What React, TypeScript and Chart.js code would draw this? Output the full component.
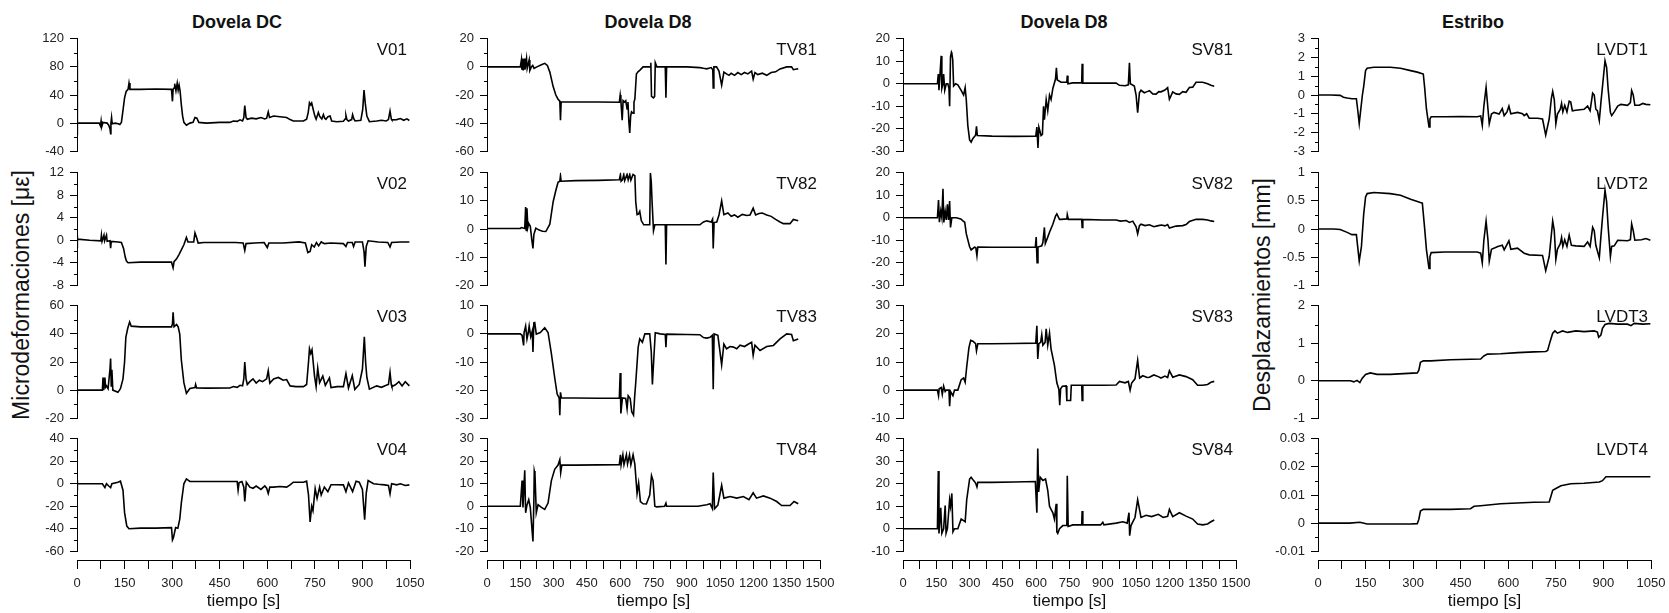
import React, { useEffect, useRef } from 'react';
import { Chart, registerables } from 'chart.js';

Chart.register(...registerables);
Chart.defaults.font.family = '"Liberation Sans", Arial, sans-serif';

type Pt = [number, number];

// ---------- Data: [tiempo (s), valor] ----------
const V01: Pt[] = [[0,0],[0.5,90],[1,-17],[2,0],[70,0],[74,-4],[76,3],[78,-5],[82,1],[95,0],[100,-3],[104,-8],[106,-15],[107,0],[109,8],[111,-1],[120,0],[130,-1],[135,-2],[140,1],[145,18],[150,36],[155,45],[161,48],[164,57],[167,48],[200,48],[250,48.5],[298,48],[301,31],[303,48],[306,50],[308,56],[312,46],[316,57],[319,47],[322,54],[325,46],[329,26],[333,10],[337,1],[345,-3],[356,0],[366,1],[372,8],[378,7],[384,1],[408,0],[450,1],[482,1],[493,3],[505,2.5],[514,4.6],[522,3],[526,8],[529,25],[533,8],[537,5.5],[550,7],[565,6],[580,8],[592,6],[598,7],[603,16],[607,8],[620,10],[640,9],[661,8],[672,5],[682,3],[700,3],[714,3],[724,5.5],[729,15],[733,29],[737,26],[740,28.5],[745,19],[750,10],[754,5.5],[761,15],[765,10],[768,8],[772,6],[777,12],[781,7],[785,5.5],[791,9],[798,10],[803,3],[819,2],[840,2.5],[846,6],[848,11],[851,5],[856,3],[866,5],[869,12],[873,6],[877,3],[895,4],[901,20],[905,47],[909,28],[914,10],[922,2],[945,3],[960,4],[975,3],[982,5],[987,17],[991,6],[993,4.6],[1008,5],[1020,6.5],[1030,4],[1040,6],[1048,3.7]];
const V02: Pt[] = [[0,0.3],[0.5,0.9],[1,-1.4],[2,0.2],[40,0],[75,-0.1],[77,0.9],[79,-0.2],[85,0.9],[87,-0.1],[93,0.9],[95,-0.2],[104,-0.1],[106,-1.4],[108,-0.2],[130,-0.3],[140,-0.4],[147,-1.5],[152,-3],[156,-3.7],[161,-4],[200,-3.9],[250,-3.9],[298,-3.9],[303,-4.9],[306,-3.8],[314,-3.3],[322,-2.5],[329,-1.7],[337,-0.8],[345,0.5],[350,-0.3],[368,-0.3],[372,1.3],[377,0.5],[382,-0.5],[400,-0.4],[450,-0.4],[500,-0.4],[524,-0.5],[529,-1.8],[533,-0.6],[560,-0.5],[590,-0.4],[600,-1.3],[605,-0.5],[650,-0.5],[700,-0.3],[720,-0.5],[728,-2.2],[735,-2.0],[740,-0.8],[748,-1.2],[755,-0.4],[762,-1.0],[770,-0.3],[780,-0.6],[800,-0.5],[840,-0.6],[848,-1.1],[853,-0.4],[868,-0.4],[872,-1.1],[877,-0.3],[900,-0.3],[905,-2.0],[908,-4.7],[912,-1.1],[918,-0.1],[950,-0.3],[980,-0.4],[987,-1.2],[992,-0.4],[1020,-0.3],[1048,-0.3]];
const V03: Pt[] = [[0,0],[0.5,-2.8],[1.5,0],[80,0],[82,9],[84,0],[88,9],[90,2],[93,3],[98,1],[104,15],[106,22.5],[108,3],[110,14.5],[113,0],[129,-1.6],[137,1],[145,8],[150,20],[154,37.5],[160,44],[166,48.5],[171,45.5],[200,45],[250,45],[298,45],[301,47],[303,55.4],[306,45],[314,46.7],[319,45],[324,39.8],[329,21.4],[337,5.3],[345,-2.3],[356,1.1],[372,1.8],[374,4],[377,1.5],[408,1.4],[482,1.5],[493,2.5],[505,2],[514,3.4],[522,3],[526,8],[529,20],[533,8],[537,4],[545,6],[555,8],[565,5],[575,7],[585,6],[598,8],[603,13.8],[608,5],[620,8],[635,9],[650,7],[661,7.5],[672,3],[690,2.5],[714,2.5],[724,4],[730,20],[733,29.4],[737,26],[741,28.7],[749,10],[754,2.5],[759,15.6],[765,5.3],[775,10],[783,3.4],[796,8.7],[801,1.8],[820,2.5],[840,2.5],[848,11.7],[856,1.5],[868,10.3],[876,0.5],[890,4],[900,15],[906,38],[910,20],[914,9],[922,0.7],[945,3],[960,2],[975,3.5],[982,4],[987,12.6],[991,4],[993,2.5],[1005,4],[1015,6],[1025,3],[1035,6],[1048,3]];
const V04: Pt[] = [[0,0],[0.5,3.4],[1,-6],[2,0],[80,0],[88,-3.4],[93,0],[100,-2],[106,-3.4],[110,0],[129,1.4],[137,2.3],[145,-5.7],[150,-25.7],[157,-37.7],[164,-40],[200,-39.5],[250,-39.5],[298,-39],[301,-50],[304,-48],[311,-39],[318,-39.5],[324,-31.4],[329,-17],[337,0],[345,4.3],[356,2],[400,2],[450,2],[505,2],[508,-5.7],[511,1],[520,2],[526,-3],[529,-15.7],[534,1.4],[545,-3],[555,-4],[565,-2],[580,-5],[592,-2],[598,-4],[603,-8.6],[608,-3],[620,-3],[640,-2.5],[661,-3],[672,-1],[682,1.4],[714,1.4],[724,2.3],[730,-10],[735,-34],[740,-20],[744,-24],[751,-4.3],[757,-13],[765,-2.9],[770,-10],[780,-2.9],[791,-7],[801,-0.9],[819,-0.9],[840,-1],[848,-7],[856,0.7],[869,-7],[880,2.3],[890,1.4],[900,-5],[907,-32],[912,-8.6],[918,2.9],[935,0],[950,-0.5],[970,-1],[982,-1.5],[987,-9],[992,0],[1008,-1],[1020,0],[1035,-1.5],[1048,-1]];

const TV81: Pt[] = [[0,0],[150,0],[155,5],[157,-2],[160,6],[163,-2.5],[168,6],[171,-2],[178,6],[181,-1],[190,5],[193,-2.5],[200,0],[206,1],[212,-1],[225,0],[245,1.5],[260,2.5],[272,1],[283,-3.7],[298,-14],[310,-20],[320,-23],[328,-24.4],[331,-38],[334,-25],[400,-25],[500,-25],[596,-25.2],[600,-20],[603,-24],[609,-38],[613,-24],[619,-25],[625,-24],[631,-30],[635,-25],[639,-39],[643,-47],[647,-35],[651,-32],[658,-33],[662,-25],[666,-23],[673,-5],[680,-3.5],[688,-2.5],[703,0],[735,0],[738,3],[741,-21],[750,-22],[755,-21],[758,3],[765,0],[803,0],[806,-22],[809,0],[900,0],[959,-0.5],[975,-1],[990,-1.4],[1010,-0.5],[1017,-2],[1019,-15],[1022,0],[1034,0],[1045,-3],[1057,-13],[1067,-3.7],[1079,-5],[1090,-6],[1100,-4.5],[1115,-6],[1130,-4],[1145,-5.5],[1160,-4],[1175,-5],[1192,-3],[1199,-8.7],[1207,-4],[1220,-5.5],[1240,-4.5],[1260,-6],[1280,-4],[1300,-3.5],[1320,-1.4],[1350,0],[1372,0],[1380,-2],[1395,-1.5],[1402,-1.4]];
const TV82: Pt[] = [[0,0.2],[150,0.2],[155,0.5],[170,0.2],[174,7.8],[177,-0.5],[180,7.4],[184,0.6],[188,2],[195,1],[202,-4],[207,-6.9],[211,-2],[220,0.3],[235,-0.4],[250,-0.8],[265,-0.9],[283,1.7],[298,9.7],[310,13.7],[320,16.6],[328,17],[331,19],[334,17],[400,17.2],[500,17.3],[596,17.5],[601,19.4],[604,17],[610,17.5],[616,19.4],[620,17.2],[631,19.4],[636,17.5],[643,19.4],[648,17.4],[658,19.4],[666,19],[670,9.7],[676,5.1],[682,5.3],[688,6.3],[695,3],[706,1.5],[733,1.5],[736,20],[740,16.6],[744,9],[750,-0.6],[756,1.5],[803,1.5],[806,-12.6],[809,1.5],[959,1.5],[975,2.5],[990,2.9],[1010,2.5],[1016,3.5],[1019,-6.9],[1023,2.3],[1035,2.5],[1045,5],[1057,10],[1067,5.1],[1085,5.7],[1100,4.5],[1115,5],[1130,4.2],[1150,5.2],[1170,4.8],[1185,5],[1199,7.4],[1210,5],[1225,5.5],[1240,5.7],[1260,5],[1280,4.5],[1300,3.4],[1320,2.5],[1335,1.9],[1365,1.9],[1380,3.4],[1402,2.9]];
const TV83: Pt[] = [[0,0],[150,0],[158,-0.5],[165,-4.1],[167,0.5],[174,2.8],[180,-1.8],[186,0.5],[190,2.8],[197,-1],[204,1],[207,-6.4],[211,3.9],[215,4],[222,-0.1],[240,0.5],[260,2.2],[275,0.5],[290,-7],[305,-15.6],[316,-21.4],[325,-22.8],[328,-28.9],[331,-20.8],[335,-22.8],[400,-22.8],[500,-22.9],[596,-22.8],[600,-13.9],[603,-28.3],[610,-22.8],[625,-23],[631,-26.6],[636,-22],[645,-23],[652,-27.7],[660,-28.9],[665,-22.5],[670,-17.4],[681,-4.7],[688,-1.8],[700,-3],[711,0],[733,0],[740,-6.4],[745,-18],[751,-9.3],[758,0.4],[780,0],[803,-0.2],[806,-4.7],[809,-0.1],[900,-0.2],[959,-0.3],[975,-1.3],[990,-1.5],[1005,-1.2],[1015,-0.5],[1019,-19.7],[1023,0],[1040,-0.5],[1057,-11],[1067,-3.6],[1079,-5.3],[1095,-4.5],[1110,-4.7],[1125,-5.3],[1140,-4],[1160,-4.5],[1178,-3.6],[1192,-3],[1199,-7.6],[1207,-4],[1230,-5.9],[1260,-4.5],[1290,-4.1],[1320,-1.8],[1350,0],[1372,-0.2],[1380,-2.4],[1402,-1.8]];
const TV84: Pt[] = [[0,0],[150,0],[158,11.4],[162,-0.5],[170,16],[174,-2.9],[180,0.5],[188,2.9],[195,-0.5],[207,-15.7],[211,2],[213,15.7],[216,14.3],[222,-2.9],[230,0.7],[245,-0.5],[260,-1.4],[275,1.4],[290,11.4],[305,16.4],[320,18.3],[328,20.7],[332,15],[337,18.3],[400,18.3],[500,18.4],[596,18.5],[601,22.9],[604,18.4],[612,22.9],[617,18.5],[628,22.9],[633,18.8],[642,22.9],[648,18.5],[658,22.9],[666,18.6],[676,5.7],[683,10.3],[691,2.1],[703,1.1],[718,1],[733,5],[741,13.6],[748,11.4],[756,0],[764,-0.3],[800,0],[806,1.4],[809,0],[950,0],[990,0.7],[1005,1.1],[1015,-1],[1019,15],[1025,-1.1],[1040,0.5],[1057,9.3],[1067,3.6],[1095,4.3],[1125,3.6],[1155,4.3],[1180,2.9],[1199,6],[1214,3.6],[1245,4.6],[1275,3.6],[1305,2.1],[1327,0.3],[1365,0.3],[1383,2.1],[1402,1.1]];

const SV81: Pt[] = [[0,0],[155,0],[159,4.3],[162,-2.9],[172,12.4],[175,-2],[180,0],[183,4.3],[188,-2.9],[195,0],[202,0],[207,-2],[210,-10],[214,12],[218,14],[220,13.5],[224,10.7],[228,-1],[237,0],[247,-0.5],[262,-2.9],[273,-5],[280,-1.7],[285,-7.1],[292,-18.6],[300,-25],[307,-26],[315,-24.3],[327,-22.9],[331,-18.9],[335,-23],[400,-23.3],[500,-23.4],[598,-23.3],[603,-19.3],[608,-28.6],[612,-19.3],[622,-23],[628,-22.5],[633,-10],[637,-16],[645,-7.1],[652,-12],[660,-5],[667,-7],[675,-2.1],[687,2.1],[691,7.1],[695,1.7],[712,0.7],[738,0.7],[740,3.6],[743,0],[765,0.4],[805,0.4],[807,8.9],[810,0.3],[900,0.3],[960,0.3],[975,-0.7],[1000,-0.9],[1015,-0.5],[1020,9.3],[1024,0],[1042,-1],[1050,-5],[1057,-12.9],[1065,-4],[1072,-2.9],[1087,-4],[1100,-3.5],[1110,-3.1],[1125,-4.5],[1140,-4.6],[1152,-3.5],[1162,-3.6],[1180,-2.8],[1192,-1.7],[1200,-6.9],[1215,-3.6],[1230,-4.5],[1245,-4.7],[1260,-3.5],[1275,-3.8],[1290,-1.7],[1305,-1.5],[1320,0.7],[1350,0.7],[1372,0],[1387,-0.7],[1402,-1.1]];
const SV82: Pt[] = [[0,0],[155,0],[160,7.9],[164,-2],[170,3],[175,0],[180,12.9],[184,-2.1],[190,2.9],[195,-1],[200,6],[205,-1],[210,7.4],[214,-4.3],[220,0],[240,0],[260,-0.5],[270,-1.4],[278,-2],[285,-7.1],[300,-12.9],[307,-14.3],[322,-13.1],[328,-13.3],[333,-16.9],[337,-13],[400,-13.1],[500,-13.1],[596,-13.1],[600,-8.6],[604,-20],[608,-13],[625,-12.5],[630,-11],[637,-4.3],[641,-11.4],[652,-8.6],[663,-5.7],[675,-2.9],[687,0.7],[693,1.7],[705,-0.7],[712,-0.7],[738,-0.5],[740,1.4],[745,-0.7],[805,-0.7],[807,-4.3],[810,-0.7],[900,-1],[960,-1],[980,-1.5],[1005,-1.2],[1020,-2.1],[1035,-1.5],[1050,-4],[1057,-7.1],[1065,-3.5],[1072,-2.9],[1090,-3.5],[1110,-3.1],[1130,-4],[1150,-3.5],[1165,-3.2],[1180,-3.6],[1192,-3],[1200,-4.6],[1230,-3.7],[1260,-3.5],[1275,-3],[1290,-1.7],[1320,-0.7],[1350,-0.7],[1372,-1],[1387,-1.4],[1402,-1.7]];
const SV83: Pt[] = [[0,0],[155,0],[160,-2],[163,0.5],[172,0.9],[177,-1.5],[183,1.4],[190,-0.5],[195,0],[207,0],[210,-5.7],[214,-0.5],[225,-2],[232,0],[247,0],[262,3.7],[273,4.3],[280,2.8],[287,8.3],[297,15.1],[305,17.7],[315,17.4],[327,16.5],[331,14],[337,16.5],[400,16.5],[500,16.6],[598,16.7],[603,22.9],[607,11.1],[612,16.5],[620,17],[625,19.7],[630,16],[640,17],[645,21.8],[652,16],[660,20.3],[667,14.6],[682,8.9],[693,2.6],[702,0.3],[706,-5.4],[710,0.5],[718,1.4],[735,1.5],[738,-3.7],[755,-3.7],[758,1.7],[805,1.7],[807,-3.7],[810,1.7],[900,1.7],[960,1.8],[975,3.1],[1000,2.6],[1015,3.1],[1023,0],[1030,2.5],[1045,4],[1057,10.6],[1066,4.3],[1080,5.1],[1100,4.5],[1110,4.6],[1130,5.4],[1150,4.8],[1162,4.3],[1180,5],[1192,4.5],[1200,6.9],[1215,4.6],[1245,5.4],[1275,4.8],[1305,3.7],[1327,1.7],[1350,1.7],[1372,2],[1387,2.8],[1402,3.1]];
const SV84: Pt[] = [[0,0],[155,0],[159,25.7],[162,-2.1],[170,9.3],[175,-2],[183,0],[190,10.3],[194,-2],[200,0],[210,12.9],[214,10],[220,15.7],[225,-1.4],[232,0],[247,0],[262,4.3],[273,3.6],[280,3.1],[287,12.9],[300,22.1],[307,22.9],[318,21.4],[327,20.3],[333,18.6],[337,20.6],[400,20.6],[500,20.8],[596,21],[603,7.1],[607,35.7],[611,16.4],[618,22.9],[630,21.5],[642,22.1],[652,17.1],[660,10],[667,8.6],[675,7.1],[682,4.3],[690,11.1],[693,-1.4],[697,-2.1],[705,0],[720,1.4],[738,1.4],[740,23.6],[744,1],[765,1.7],[805,1.7],[807,7.9],[810,1.7],[890,1.7],[900,2.9],[905,1.7],[960,2.5],[990,3.1],[1010,2.5],[1018,7.1],[1021,-3.1],[1027,1.4],[1045,5],[1057,12.9],[1072,5],[1095,6],[1120,5.4],[1150,6.4],[1172,5],[1192,5.5],[1200,8.6],[1215,5.4],[1245,7.1],[1275,5.6],[1305,4.3],[1327,2.1],[1350,1.7],[1372,2.1],[1387,3.1],[1402,3.9]];

const LVDT1: Pt[] = [[0,0],[40,0],[70,-0.02],[80,-0.12],[92,-0.16],[107,-0.2],[121,-0.2],[125,-0.76],[130,-1.53],[134,-0.9],[140,0],[144,0.45],[150,1.3],[155,1.43],[176,1.48],[228,1.48],[260,1.43],[292,1.3],[313,1.22],[329,1.14],[332,1.12],[336,0.45],[342,-0.76],[350,-1.7],[353,-1.28],[357,-1.16],[400,-1.16],[450,-1.15],[502,-1.16],[513,-1.12],[518,-1.62],[523,-0.59],[530,0.41],[536,-0.76],[540,-1.53],[547,-1.02],[555,-0.93],[571,-1.02],[581,-0.72],[587,-1.1],[596,-0.9],[602,-0.59],[608,-1.0],[629,-0.93],[645,-1.0],[650,-1.1],[658,-1.0],[666,-1.24],[692,-1.24],[708,-1.28],[718,-2.14],[729,-1.28],[736,-0.16],[740,0.19],[745,-0.24],[750,-1.53],[755,-1.02],[764,-0.76],[768,-0.45],[772,-0.9],[778,-0.55],[785,-0.9],[792,-0.33],[797,-0.38],[802,-0.84],[813,-0.81],[839,-0.76],[850,-0.59],[858,-0.84],[866,0.1],[871,0.0],[876,-0.76],[881,-0.84],[887,-1.36],[892,-0.41],[897,0.45],[905,1.83],[910,1.48],[915,0.28],[922,-0.93],[926,-1.1],[934,-0.9],[945,-0.59],[955,-0.5],[976,-0.55],[985,-0.41],[989,0.24],[994,0.0],[999,-0.55],[1013,-0.55],[1024,-0.45],[1034,-0.5],[1048,-0.52]];
const LVDT2: Pt[] = [[0,0],[40,0],[50,0],[70,-0.01],[92,-0.06],[107,-0.1],[121,-0.1],[125,-0.31],[130,-0.57],[137,-0.31],[144,0.26],[150,0.57],[155,0.63],[176,0.65],[228,0.63],[260,0.6],[292,0.53],[323,0.47],[329,0.46],[336,0.03],[342,-0.37],[350,-0.7],[353,-0.49],[357,-0.42],[400,-0.41],[450,-0.41],[502,-0.41],[513,-0.43],[518,-0.6],[523,-0.2],[530,0.14],[536,-0.2],[540,-0.57],[547,-0.36],[567,-0.31],[581,-0.29],[587,-0.37],[602,-0.21],[608,-0.36],[629,-0.34],[650,-0.43],[666,-0.46],[708,-0.47],[718,-0.74],[729,-0.49],[736,-0.09],[740,0.14],[745,-0.03],[750,-0.54],[755,-0.36],[764,-0.26],[768,-0.15],[772,-0.31],[778,-0.19],[785,-0.31],[792,-0.11],[799,-0.29],[813,-0.3],[839,-0.31],[850,-0.23],[858,-0.31],[866,0.03],[871,-0.03],[876,-0.29],[887,-0.51],[892,-0.14],[897,0.2],[905,0.69],[910,0.49],[915,0.03],[922,-0.49],[926,-0.31],[934,-0.3],[945,-0.2],[976,-0.21],[985,-0.19],[989,0.09],[994,-0.03],[999,-0.2],[1020,-0.19],[1034,-0.17],[1048,-0.2]];
const LVDT3: Pt[] = [[0,0],[50,0],[102,0],[113,-0.03],[123,0.01],[132,-0.05],[139,0.06],[150,0.17],[165,0.21],[186,0.17],[228,0.17],[270,0.19],[313,0.21],[318,0.28],[323,0.49],[332,0.53],[355,0.53],[418,0.56],[513,0.58],[523,0.66],[534,0.71],[576,0.72],[629,0.75],[681,0.77],[718,0.78],[724,0.81],[732,1.05],[740,1.27],[747,1.33],[755,1.27],[771,1.33],[787,1.29],[813,1.33],[839,1.31],[871,1.33],[881,1.3],[885,1.16],[892,1.22],[897,1.4],[905,1.5],[918,1.53],[945,1.51],[976,1.51],[987,1.47],[997,1.53],[1024,1.51],[1048,1.52]];
const LVDT4: Pt[] = [[0,0],[100,0],[132,0.0003],[155,-0.0003],[207,-0.0003],[292,-0.0003],[313,-0.0002],[318,0.0014],[323,0.0043],[332,0.0049],[418,0.0049],[481,0.0051],[492,0.006],[513,0.0062],[576,0.0069],[681,0.0074],[729,0.0075],[734,0.0094],[740,0.0117],[750,0.0123],[766,0.0133],[797,0.014],[839,0.0142],[887,0.0146],[897,0.0151],[908,0.0165],[945,0.0165],[997,0.0165],[1048,0.0165]];

// ---------- Panel definitions ----------
const COLUMN_TITLES = ['Dovela DC', 'Dovela D8', 'Dovela D8', 'Estribo'];
const PANEL_LABELS = [
  ['V01', 'V02', 'V03', 'V04'],
  ['TV81', 'TV82', 'TV83', 'TV84'],
  ['SV81', 'SV82', 'SV83', 'SV84'],
  ['LVDT1', 'LVDT2', 'LVDT3', 'LVDT4'],
];
const SERIES = [
  [V01, V02, V03, V04],
  [TV81, TV82, TV83, TV84],
  [SV81, SV82, SV83, SV84],
  [LVDT1, LVDT2, LVDT3, LVDT4],
];
const Y_MIN = [[-40, -8, -20, -60], [-60, -20, -30, -20], [-30, -30, -10, -10], [-3, -1, -1, -0.01]];
const Y_MAX = [[120, 12, 60, 40], [20, 20, 10, 30], [20, 20, 30, 40], [3, 1, 2, 0.03]];
const Y_STEP = [[40, 4, 20, 20], [20, 10, 10, 10], [10, 10, 10, 10], [1, 0.5, 1, 0.01]];
const X_MAX = [1050, 1500, 1500, 1050];
const X_TICK_STEP = 75;
const X_LABEL_STEP = 150;
const X_TITLE = 'tiempo [s]';
const Y_TITLES = ['Microdeformaciones [\u03BC\u03B5]', 'Desplazamientos [mm]'];

// ---------- Layout ----------
const COL_LEFT = [77, 487, 903, 1318];
const PLOT_W = 333;
const PANEL_TOP = [37, 171, 304, 437];
const PANEL_H = 116;
const AXIS_W = 60;
const PAD_T = 12;
const PAD_B = 12;
const PAD_R = 10;
const XAXIS_TOP = 545;
const XAXIS_H = 68;
const XAXIS_BOX = 53;
const XAXIS_PAD = 25;

const fmtTick = (v: any) => String(Number(Number(v).toFixed(6)));

const minorTicks = {
  id: 'minorTicks',
  afterDraw(chart: any) {
    const s = chart.scales.y;
    if (!s || !s.options.display) return;
    const ctx = chart.ctx;
    const t = s.ticks;
    const x = Math.round(chart.chartArea.left) + 0.5;
    ctx.save();
    ctx.strokeStyle = '#000';
    ctx.lineWidth = 1;
    for (let i = 0; i < t.length - 1; i++) {
      const y = Math.round(s.getPixelForValue((t[i].value + t[i + 1].value) / 2)) + 0.5;
      ctx.beginPath();
      ctx.moveTo(x - 3.5, y);
      ctx.lineTo(x, y);
      ctx.stroke();
    }
    ctx.restore();
  },
};

const panelLabel = {
  id: 'panelLabel',
  afterDraw(chart: any, _args: any, opts: any) {
    if (!opts || !opts.text) return;
    const ctx = chart.ctx;
    const a = chart.chartArea;
    ctx.save();
    ctx.font = '17px "Liberation Sans", Arial, sans-serif';
    ctx.fillStyle = '#111';
    ctx.textAlign = 'right';
    ctx.textBaseline = 'middle';
    ctx.fillText(opts.text, a.right - 3, a.top + 12);
    ctx.restore();
  },
};

function Panel(props: { col: number; row: number }) {
  const { col, row } = props;
  const ref = useRef<HTMLCanvasElement>(null);
  const w = AXIS_W + PLOT_W + PAD_R;
  const h = PAD_T + PANEL_H + PAD_B;
  useEffect(() => {
    const data = SERIES[col][row].map(([x, y]) => ({ x, y }));
    const chart = new Chart(ref.current as HTMLCanvasElement, {
      type: 'line',
      data: {
        datasets: [
          {
            data,
            borderColor: '#000',
            borderWidth: 1.6,
            pointRadius: 0,
            tension: 0,
            fill: false,
          },
        ],
      },
      options: {
        responsive: false,
        animation: false,
        devicePixelRatio: 1,
        layout: { padding: { top: PAD_T, bottom: PAD_B, left: 0, right: PAD_R } },
        plugins: {
          legend: { display: false },
          tooltip: { enabled: false },
          panelLabel: { text: PANEL_LABELS[col][row] },
        } as any,
        scales: {
          x: { type: 'linear', min: 0, max: X_MAX[col], display: false },
          y: {
            type: 'linear',
            min: Y_MIN[col][row],
            max: Y_MAX[col][row],
            afterFit: (s: any) => {
              s.width = AXIS_W;
            },
            ticks: {
              stepSize: Y_STEP[col][row],
              font: { size: 13 },
              color: '#222',
              padding: 6,
              callback: fmtTick,
            },
            grid: { drawOnChartArea: false, drawTicks: true, tickLength: 7, color: '#000' },
            border: { display: true, color: '#000', width: 1 },
          },
        },
      },
      plugins: [minorTicks, panelLabel],
    });
    return () => chart.destroy();
  }, [col, row]);
  return (
    <canvas
      ref={ref}
      width={w}
      height={h}
      style={{
        position: 'absolute',
        left: COL_LEFT[col] - AXIS_W,
        top: PANEL_TOP[row] - PAD_T,
        width: w,
        height: h,
      }}
    />
  );
}

function XAxis(props: { col: number }) {
  const { col } = props;
  const ref = useRef<HTMLCanvasElement>(null);
  const w = PLOT_W + 2 * XAXIS_PAD;
  useEffect(() => {
    const chart = new Chart(ref.current as HTMLCanvasElement, {
      type: 'line',
      data: { datasets: [] },
      options: {
        responsive: false,
        animation: false,
        devicePixelRatio: 1,
        layout: { padding: { top: 0, bottom: 0, left: XAXIS_PAD, right: XAXIS_PAD } },
        plugins: { legend: { display: false }, tooltip: { enabled: false } },
        scales: {
          x: {
            type: 'linear',
            position: 'bottom',
            min: 0,
            max: X_MAX[col],
            afterFit: (s: any) => {
              s.height = XAXIS_BOX;
            },
            ticks: {
              stepSize: X_TICK_STEP,
              autoSkip: false,
              maxRotation: 0,
              minRotation: 0,
              padding: 7,
              font: { size: 13 },
              color: '#222',
              callback: (v: any) => (Number(v) % X_LABEL_STEP === 0 ? String(v) : ''),
            },
            grid: { drawOnChartArea: false, drawTicks: true, tickLength: 9, color: '#000' },
            border: { display: true, color: '#000', width: 1 },
            title: {
              display: true,
              text: X_TITLE,
              font: { size: 17 },
              color: '#111',
              padding: { top: 0, bottom: 1 },
            },
          },
          y: { display: false, min: 0, max: 1 },
        },
      },
    });
    return () => chart.destroy();
  }, [col]);
  return (
    <canvas
      ref={ref}
      width={w}
      height={XAXIS_H}
      style={{
        position: 'absolute',
        left: COL_LEFT[col] - XAXIS_PAD,
        top: XAXIS_TOP,
        width: w,
        height: XAXIS_H,
      }}
    />
  );
}

const TITLE_X = [237, 648, 1064, 1473];
const TITLE_Y = 22;
const YTITLE_X = [21, 1262];
const YTITLE_Y = 295;

export default function App() {
  const font = '"Liberation Sans", Arial, sans-serif';
  return (
    <div
      style={{
        position: 'absolute',
        left: 0,
        top: 0,
        width: 1669,
        height: 613,
        background: '#fff',
        overflow: 'hidden',
        fontFamily: font,
      }}
    >
      {COLUMN_TITLES.map((t, i) => (
        <div
          key={'t' + i}
          style={{
            position: 'absolute',
            left: TITLE_X[i],
            top: TITLE_Y,
            transform: 'translate(-50%, -50%)',
            fontWeight: 'bold',
            fontSize: 18,
            whiteSpace: 'nowrap',
            color: '#111',
          }}
        >
          {t}
        </div>
      ))}
      {Y_TITLES.map((t, i) => (
        <div
          key={'y' + i}
          style={{
            position: 'absolute',
            left: YTITLE_X[i],
            top: YTITLE_Y,
            transform: 'translate(-50%, -50%) rotate(-90deg)',
            fontSize: 23,
            whiteSpace: 'nowrap',
            color: '#111',
          }}
        >
          {t}
        </div>
      ))}
      {[0, 1, 2, 3].map((c) =>
        [0, 1, 2, 3].map((r) => <Panel key={c + '-' + r} col={c} row={r} />)
      )}
      {[0, 1, 2, 3].map((c) => (
        <XAxis key={'x' + c} col={c} />
      ))}
    </div>
  );
}
